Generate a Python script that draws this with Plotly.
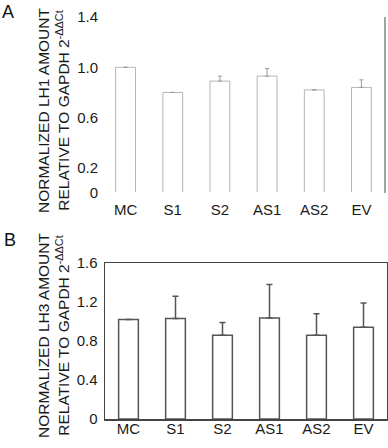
import plotly.graph_objects as go

categories = ["MC", "S1", "S2", "AS1", "AS2", "EV"]
lh1_values = [1.00, 0.80, 0.89, 0.93, 0.82, 0.84]
lh1_errors = [0.0, 0.0, 0.04, 0.06, 0.0, 0.06]
lh3_values = [1.02, 1.03, 0.86, 1.035, 0.86, 0.94]
lh3_errors = [0.0, 0.23, 0.13, 0.345, 0.22, 0.25]
lh1_ticks = [0, 0.2, 0.6, 1.0, 1.4]
lh1_ticktext = ["0", "0.2", "0.6", "1.0", "1.4"]
lh3_ticks = [0, 0.4, 0.8, 1.2, 1.6]
lh3_ticktext = ["0", "0.4", "0.8", "1.2", "1.6"]

FONT = "Liberation Sans, Arial, sans-serif"
W, H = 388, 448

fig = go.Figure()
fig.add_trace(go.Bar(
    x=categories, y=lh1_values, xaxis="x", yaxis="y", width=0.42,
    marker=dict(color="white", line=dict(color="#b5b5b5", width=1)),
    error_y=dict(type="data", symmetric=False, array=lh1_errors,
                 arrayminus=[0] * 6, color="#9a9a9a", thickness=1, width=2),
    showlegend=False))
fig.add_trace(go.Bar(
    x=categories, y=lh3_values, xaxis="x2", yaxis="y2", width=0.42,
    marker=dict(color="white", line=dict(color="#555555", width=1.5)),
    error_y=dict(type="data", symmetric=False, array=lh3_errors,
                 arrayminus=[0] * 6, color="#555555", thickness=1.5, width=3),
    showlegend=False))

tickfont = dict(family=FONT, size=15, color="#1a1a1a")
fig.update_layout(
    width=W, height=H, margin=dict(l=0, r=0, t=0, b=0, autoexpand=False),
    paper_bgcolor="white", plot_bgcolor="white",
    xaxis=dict(domain=[102 / W, 385 / W], anchor="y", range=[-0.5, 5.5],
               showline=False, showgrid=False, ticks="", tickfont=tickfont,
               ticklabelstandoff=6, automargin=False),
    yaxis=dict(domain=[1 - 193 / H, 1 - 17 / H], anchor="x", range=[0, 1.4],
               showline=False, showgrid=False, zeroline=False, ticks="",
               tickvals=lh1_ticks, ticktext=lh1_ticktext, tickfont=tickfont,
               ticklabelstandoff=3, automargin=False),
    xaxis2=dict(domain=[105 / W, 387 / W], anchor="y2", range=[-0.5, 5.5],
                showline=True, linecolor="#444", linewidth=1.5, mirror=True,
                showgrid=False, ticks="", ticklen=0, tickfont=tickfont,
                ticklabelstandoff=-5, automargin=False),
    yaxis2=dict(domain=[1 - 419 / H, 1 - 263 / H], anchor="x2", range=[0, 1.6],
                showline=True, linecolor="#444", linewidth=1.5, mirror=True,
                showgrid=False, zeroline=False, ticks="",
                tickvals=lh3_ticks, ticktext=lh3_ticktext, tickfont=tickfont,
                ticklabelstandoff=3, automargin=False),
    shapes=[
        dict(type="line", xref="x domain", yref="y domain",
             x0=1, x1=1, y0=0, y1=1, line=dict(color="#666", width=1.2)),
        dict(type="line", xref="x domain", yref="y", layer="above",
             x0=0, x1=0.97, y0=0, y1=0, line=dict(color="white", width=2)),
    ],
    annotations=[
        dict(text="A", x=0 / W, y=1 - 0 / H, xref="paper", yref="paper",
             xanchor="left", yanchor="top", showarrow=False,
             font=dict(family=FONT, size=18, color="#111")),
        dict(text="B", x=2 / W, y=1 - 228 / H, xref="paper", yref="paper",
             xanchor="left", yanchor="top", showarrow=False,
             font=dict(family=FONT, size=18, color="#111")),
        dict(text="NORMALIZED LH1 AMOUNT<br>RELATIVE TO GAPDH 2<sup>-ΔΔCt</sup>",
             x=53 / W, y=1 - 110 / H, xref="paper", yref="paper",
             xanchor="center", yanchor="middle", textangle=-90, showarrow=False,
             font=dict(family=FONT, size=15.5, color="#1a1a1a")),
        dict(text="NORMALIZED LH3 AMOUNT<br>RELATIVE TO GAPDH 2<sup>-ΔΔCt</sup>",
             x=53 / W, y=1 - 335 / H, xref="paper", yref="paper",
             xanchor="center", yanchor="middle", textangle=-90, showarrow=False,
             font=dict(family=FONT, size=15.5, color="#1a1a1a")),
    ],
)

fig.write_html(
    "out.html",
    config={"displayModeBar": False, "staticPlot": True},
    post_script="document.documentElement.style.margin='0';"
                "document.body.style.margin='0';"
                "document.body.style.padding='0';"
                "document.body.style.overflow='hidden';",
)
